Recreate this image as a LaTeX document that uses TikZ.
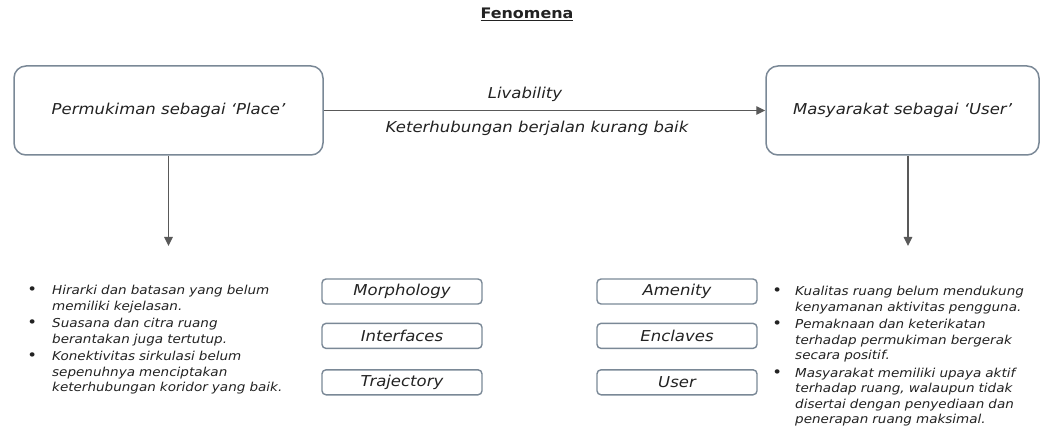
\documentclass[tikz,border=0pt]{standalone}
\usepackage{fontspec}
\setmainfont{DejaVu Sans}[FakeStretch=1.1]
\usepackage{enumitem}
\usetikzlibrary{positioning,arrows.meta}
\definecolor{boxline}{HTML}{7A8896}
\definecolor{arrowgrey}{HTML}{595959}
\definecolor{txtgrey}{HTML}{222222}
\tikzset{
  bigbox/.style={draw=boxline, line width=1.5pt, rounded corners=12pt, minimum height=89pt, text=txtgrey, font=\fontsize{15}{18}\selectfont\itshape},
  smallbox/.style={draw=boxline, line width=1.4pt, rounded corners=4pt, minimum width=160pt, minimum height=25pt, text=txtgrey, font=\fontsize{15}{17}\selectfont\itshape},
  linklabel/.style={text=txtgrey, font=\fontsize{15}{17}\selectfont\itshape},
  listbox/.style={anchor=north west, inner sep=0pt, text width=290pt, text=txtgrey, font=\fontsize{12.3}{15.5}\selectfont\itshape},
  link/.style={draw=arrowgrey, line width=1.4pt, -{Triangle[length=9pt,width=8.5pt]}}
}
\newcommand{\listdot}{\upshape\fontsize{15}{15}\selectfont\textbullet}
\setlist[itemize]{label=\listdot, leftmargin=28pt, labelsep=15pt, itemsep=2pt, topsep=0pt, parsep=0pt, partopsep=0pt}
\begin{document}
\begin{tikzpicture}[x=1pt, y=-1pt]
  \useasboundingbox (0,0) rectangle (1044,430);
  \node[font=\fontsize{14.5}{17}\selectfont\bfseries, text=txtgrey] (title) at (527,14) {\underline{Fenomena}};
%
  \node[bigbox, minimum width=309pt] (place) at (168.5,110.5) {Permukiman sebagai ‘Place’};
  \node[bigbox, minimum width=273pt] (user) at (902.5,110.5) {Masyarakat sebagai ‘User’};
  \draw[link] (place) -- (user);
  \node[linklabel] (liv) at (525,94) {Livability};
  \node[linklabel] (ket) at (537,128) {Keterhubungan berjalan kurang baik};
%
  \coordinate (placeend) at (168.5,246);
  \coordinate (userend) at (908,246);
  \draw[link] (place.south) -- (placeend);
  \draw[link] (user.south -| userend) -- (userend);
%
  \node[smallbox] (morph) at (402,291.5) {Morphology};
  \node[smallbox, below=18pt of morph] (inter) {Interfaces};
  \node[smallbox, below=20pt of inter] (traj) {Trajectory};
  \node[smallbox] (amen) at (677,291.5) {Amenity};
  \node[smallbox, below=18pt of amen] (encl) {Enclaves};
  \node[smallbox, below=20pt of encl] (usr) {User};
%
  \node[listbox] (placelist) at (24,279) {%
    \begin{itemize}
      \item Hirarki dan batasan yang belum\newline memiliki kejelasan.
      \item Suasana dan citra ruang\newline berantakan juga tertutup.
      \item Konektivitas sirkulasi belum\newline sepenuhnya menciptakan\newline keterhubungan koridor yang baik.
    \end{itemize}};
  \node[listbox, text width=272pt] (userlist) at (767,280) {%
    \begin{itemize}[labelsep=13pt]
      \item Kualitas ruang belum mendukung\newline kenyamanan aktivitas pengguna.
      \item Pemaknaan dan keterikatan\newline terhadap permukiman bergerak\newline secara positif.
      \item Masyarakat memiliki upaya aktif\newline terhadap ruang, walaupun tidak\newline disertai dengan penyediaan dan\newline penerapan ruang maksimal.
    \end{itemize}};
\end{tikzpicture}
\end{document}
